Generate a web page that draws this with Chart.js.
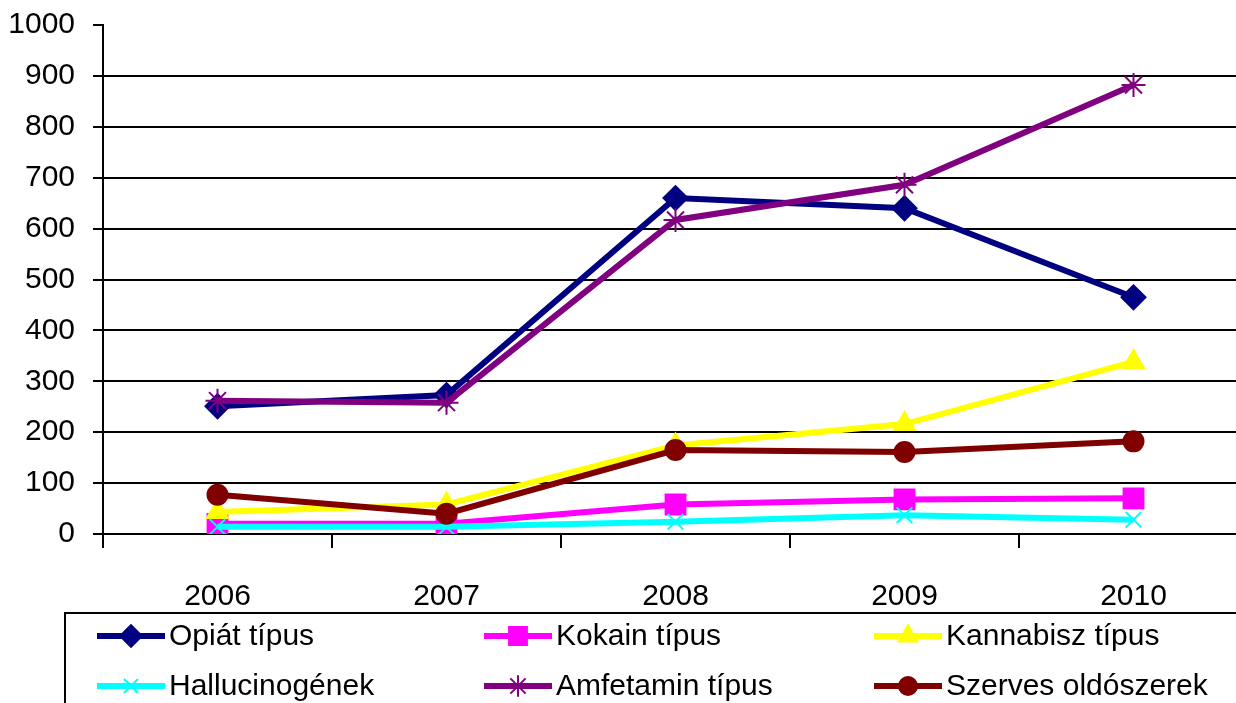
<!DOCTYPE html>
<html>
<head>
<meta charset="utf-8">
<script src="https://cdn.jsdelivr.net/npm/chart.js@4/dist/chart.umd.min.js"></script>
<style>
  html, body { margin: 0; padding: 0; background: #fff; overflow: hidden; }
  #wrap { width: 1236px; height: 703px; overflow: hidden; position: relative; }
  #drugChart { position: absolute; left: 0; top: 0; }
</style>
</head>
<body>
<div id="wrap"><canvas id="drugChart" width="1264" height="703"></canvas></div>
<script>
// years on the x axis
var years = ['2006', '2007', '2008', '2009', '2010'];

// series values
var opiat = [251, 273, 660, 640, 465];
var kokain = [20, 20, 58, 68, 70];
var kannabisz = [43, 58, 174, 216, 338];
var hallucinogenek = [14, 14, 24, 37, 28];
var amfetamin = [262, 258, 617, 686, 882];
var szerves = [77, 40, 165, 161, 182];

var seriesNames = ['Opiát típus', 'Kokain típus', 'Kannabisz típus', 'Hallucinogének', 'Amfetamin típus', 'Szerves oldószerek'];

var yTicks = [0, 100, 200, 300, 400, 500, 600, 700, 800, 900, 1000];

var FONT = '"Liberation Sans", Arial, sans-serif';

function series(i, data, color, style, radius) {
	return {
		label: seriesNames[i],
		data: data,
		borderColor: color,
		backgroundColor: color,
		borderWidth: 6,
		pointStyle: style,
		pointRadius: radius,
		pointHoverRadius: radius,
		pointBorderWidth: 2,
		tension: 0,
		order: 6 - i
	};
}

// legend in a box under the axis, 3 columns x 2 rows
var boxLegend = {
	id: 'boxLegend',
	afterDraw: function (chart) {
		var ctx = chart.ctx;
		var colX = [97, 484, 874];
		var rowY = [636, 686];
		ctx.save();
		ctx.strokeStyle = '#000';
		ctx.lineWidth = 2;
		ctx.strokeRect(65, 613, 1200, 120);
		chart.data.datasets.forEach(function (ds, i) {
			var x = colX[i % 3];
			var y = rowY[Math.floor(i / 3)];
			ctx.strokeStyle = ds.borderColor;
			ctx.lineWidth = 6;
			ctx.beginPath();
			ctx.moveTo(x, y);
			ctx.lineTo(x + 68, y);
			ctx.stroke();
			ctx.fillStyle = ds.backgroundColor;
			ctx.strokeStyle = ds.borderColor;
			ctx.lineWidth = 2;
			if (Chart.helpers && Chart.helpers.drawPoint) {
				Chart.helpers.drawPoint(ctx, { pointStyle: ds.pointStyle, radius: ds.pointRadius * 0.9, borderWidth: 2, rotation: 0 }, x + 34, y);
			}
			ctx.fillStyle = '#000';
			ctx.font = '30px ' + FONT;
			ctx.textBaseline = 'middle';
			ctx.textAlign = 'left';
			ctx.fillText(ds.label, x + 72, y + 1);
		});
		ctx.restore();
	}
};

var ctx = document.getElementById('drugChart').getContext('2d');
var chart = new Chart(ctx, {
	type: 'line',
	data: {
		labels: years,
		datasets: [
			series(0, opiat, '#000080', 'rectRot', 12),
			series(1, kokain, '#FF00FF', 'rect', 14),
			series(2, kannabisz, '#FFFF00', 'triangle', 12),
			series(3, hallucinogenek, '#00FFFF', 'crossRot', 11),
			series(4, amfetamin, '#800080', 'star', 12),
			series(5, szerves, '#800000', 'circle', 10)
		]
	},
	options: {
		responsive: false,
		animation: false,
		devicePixelRatio: 1,
		layout: { padding: { top: 25, left: 0, right: 2, bottom: 89 } },
		plugins: {
			legend: { display: false },
			tooltip: { enabled: false }
		},
		scales: {
			x: {
				offset: true,
				grid: { offset: true, drawOnChartArea: false, color: '#000', lineWidth: 2, tickLength: 14 },
				border: { color: '#000', width: 2 },
				ticks: { color: '#000', padding: 31, font: { family: FONT, size: 30 } },
				afterFit: function (scale) { scale.height = 80; }
			},
			y: {
				min: 0,
				max: 1000,
				afterBuildTicks: function (scale) {
					scale.ticks = yTicks.map(function (v) { return { value: v }; });
				},
				grid: {
					color: function (c) { return c.tick && c.tick.value === 1000 ? 'rgba(0,0,0,0)' : '#000'; },
					tickColor: '#000',
					lineWidth: 2,
					tickLength: 10
				},
				border: { color: '#000', width: 2 },
				ticks: {
					color: '#000',
					padding: 18,
					font: { family: FONT, size: 30 },
					callback: function (v) { return String(v); }
				},
				afterFit: function (scale) {
					scale.width = 103;
					scale.paddingTop = 0;
					scale.paddingBottom = 0;
				}
			}
		}
	},
	plugins: [boxLegend]
});
</script>
</body>
</html>
